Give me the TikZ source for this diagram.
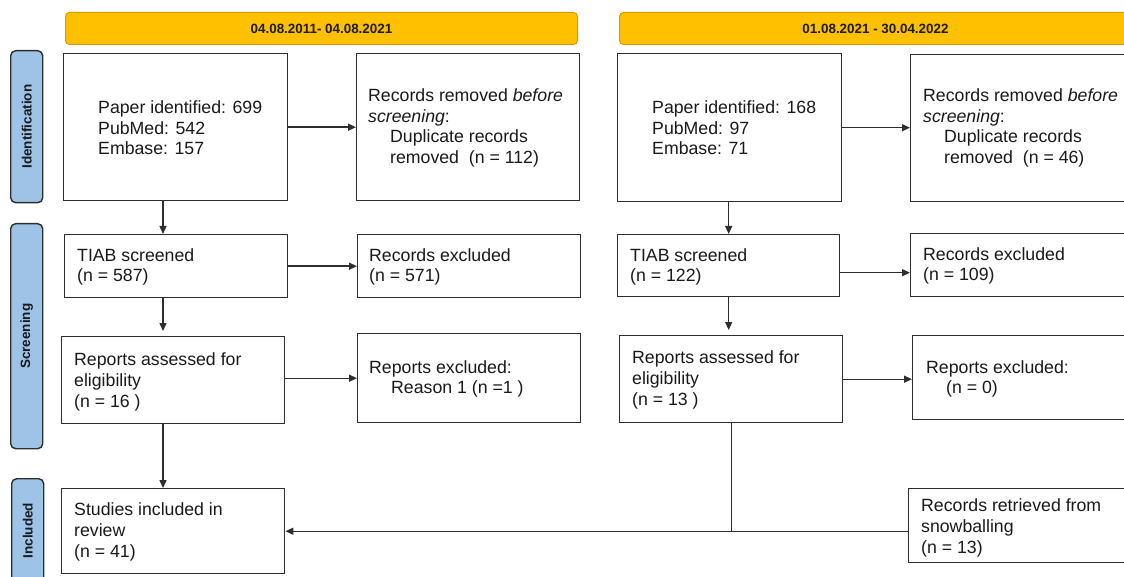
\documentclass[tikz,border=0pt]{standalone}
\usepackage{fontspec}
\setmainfont{Liberation Sans}
\usetikzlibrary{arrows.meta,calc}
\definecolor{boxc}{HTML}{2E2E2E}
\definecolor{barfill}{HTML}{FFC000}
\definecolor{bardraw}{HTML}{D99A00}
\definecolor{sidefill}{HTML}{9DC3E6}
\definecolor{txtc}{HTML}{1A1A1A}
\begin{document}
\begin{tikzpicture}[x=1pt,y=-1pt,
  box/.style={draw=boxc, line width=1.4pt, fill=white, inner sep=0pt, anchor=north west},
  txt/.style={anchor=west, align=left, inner sep=0pt, text=txtc, font=\fontsize{17.7}{20.6}\selectfont},
  bar/.style={draw=bardraw, line width=1pt, fill=barfill, rounded corners=4pt, inner sep=0pt, anchor=north west, minimum width=512pt, minimum height=32pt, text=txtc, font=\bfseries\fontsize{13.4}{16}\selectfont},
  side/.style={draw=boxc, line width=1.4pt, fill=sidefill, rounded corners=5pt, inner sep=0pt, anchor=north west, minimum width=32pt},
  sidetxt/.style={rotate=90, text=txtc, font=\bfseries\fontsize{13.5}{16}\selectfont, inner sep=0pt},
  arr/.style={line width=1.4pt, draw=boxc, -{Triangle[length=8pt,width=7pt]}},
  ln/.style={line width=1.4pt, draw=boxc}]
\useasboundingbox (0,0) rectangle (1124,577);
\clip (0,0) rectangle (1124,577);

% column coordinates
\coordinate (colL) at (163,0);

% header bars
\node[bar] (B1) at (65,12) {04.08.2011- 04.08.2021};
\node[bar] (B2) at (619,12) {01.08.2021 - 30.04.2022};

% side labels
\node[side, minimum height=152pt] (S1) at (10,50) {};
\node[sidetxt] (S1t) at (S1.center) {Identification};
\node[side, minimum height=225pt] (S2) at (10,223) {};
\node[sidetxt] (S2t) at (S2.center) {Screening};
\node[side, minimum height=104pt] (S3) at (11,478) {};
\node[sidetxt] (S3t) at (S3.center) {Included};

% left column
\node[box, minimum width=224pt, minimum height=147pt] (A) at (63,53) {};
\node[txt] (At) at (98,128) {Paper identified: 699\\PubMed: 542\\Embase: 157};
\node[box, minimum width=223pt, minimum height=147pt] (B) at (356,53) {};
\node[txt] (Bt) at (368,128) {Records removed \textit{before}\\\textit{screening}:\\\hspace*{22pt}Duplicate records\\\hspace*{22pt}removed\ \ (n = 112)};
\node[box, minimum width=223pt, minimum height=63pt] (C) at (64,234) {};
\node[txt] (Ct) at (77,267) {TIAB screened\\(n = 587)};
\node[box, minimum width=223pt, minimum height=63pt] (D) at (357,234) {};
\node[txt] (Dt) at (369,267) {Records excluded\\(n = 571)};
\node[box, minimum width=223pt, minimum height=87pt] (E) at (61,336) {};
\node[txt] (Et) at (74,382) {Reports assessed for\\eligibility\\(n = 16 )};
\node[box, minimum width=223pt, minimum height=89pt] (F) at (357,333) {};
\node[txt] (Ft) at (369,379) {Reports excluded:\\\hspace*{22pt}Reason 1 (n =1 )};
\node[box, minimum width=223pt, minimum height=85pt] (G) at (61,488) {};
\node[txt] (Gt) at (74,532) {Studies included in\\review\\(n = 41)};

% right column
\node[box, minimum width=224pt, minimum height=148pt] (H) at (617,53) {};
\node[txt] (Ht) at (652,128) {Paper identified: 168\\PubMed: 97\\Embase: 71};
\node[box, minimum width=223pt, minimum height=147pt] (I) at (910,54) {};
\node[txt] (It) at (923,128) {Records removed \textit{before}\\\textit{screening}:\\\hspace*{21pt}Duplicate records\\\hspace*{21pt}removed\ \ (n = 46)};
\node[box, minimum width=222pt, minimum height=62pt] (J) at (617,234) {};
\node[txt] (Jt) at (630,267) {TIAB screened\\(n = 122)};
\node[box, minimum width=223pt, minimum height=63pt] (L) at (910,233) {};
\node[txt] (Lt) at (923,266) {Records excluded\\(n = 109)};
\node[box, minimum width=223pt, minimum height=87pt] (K) at (619,335) {};
\node[txt] (Kt) at (632,380) {Reports assessed for\\eligibility\\(n = 13 )};
\node[box, minimum width=223pt, minimum height=84pt] (M) at (912,335) {};
\node[txt] (Mt) at (926,379) {Reports excluded:\\\hspace*{20pt}(n = 0)};
\node[box, minimum width=223pt, minimum height=74pt] (N) at (908,488) {};
\node[txt] (Nt) at (921,528) {Records retrieved from\\snowballing\\(n = 13)};

% connectors left
\draw[arr] (A.east) -- (B.west);
\draw[arr] (A.south -| colL) -- (C.north -| colL);
\draw[arr] (C.east) -- (C.east -| D.west);
\draw[arr, shorten >=5pt] (C.south -| colL) -- (E.north -| colL);
\draw[arr] (E.east |- F.west) -- (F.west);
\draw[arr] (E.south -| colL) -- (G.north -| colL);

% connectors right
\draw[arr] (H.east) -- (H.east -| I.west);
\draw[arr] (H.south -| J.north) -- (J.north);
\draw[arr] ([yshift=-7pt]J.east) -- ([yshift=-7pt]J.east -| L.west);
\draw[arr, shorten >=5pt] (J.south) -- (J.south |- K.north);
\draw[arr] (K.east) -- (K.east -| M.west);
\draw[ln] (K.south) -- (K.south |- G.east);
\draw[arr] (N.west |- G.east) -- (G.east);
\end{tikzpicture}
\end{document}
